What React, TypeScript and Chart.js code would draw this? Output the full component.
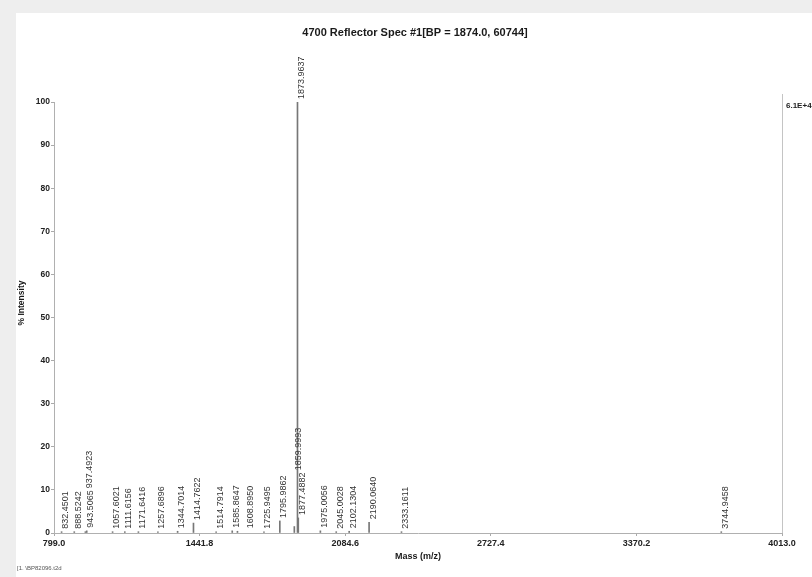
import { useEffect, useRef } from 'react';
import { Chart, registerables } from 'chart.js';

Chart.register(...registerables);

const TITLE = '4700 Reflector Spec #1[BP = 1874.0, 60744]';
const X_TITLE = 'Mass (m/z)';
const Y_TITLE = '% Intensity';
const RIGHT_LABEL = '6.1E+4';
const FOOTNOTE = '[1. \\BP82096.t2d';

const X_MIN = 799.0;
const X_MAX = 4013.0;
const X_TICKS = [799.0, 1441.8, 2084.6, 2727.4, 3370.2, 4013.0];
const Y_TICKS = [0, 10, 20, 30, 40, 50, 60, 70, 80, 90, 100];

const PEAK_MZ = [
  832.4501, 888.5242, 937.4923, 943.5065, 1057.6021, 1111.6156, 1171.6416,
  1257.6896, 1344.7014, 1414.7622, 1514.7914, 1585.8647, 1608.895, 1725.9495,
  1795.9862, 1859.9993, 1873.9637, 1877.4882, 1975.0056, 2045.0028, 2102.1304,
  2190.064, 2333.1611, 3744.9458,
];
const PEAK_INTENSITY = [
  0.3, 0.3, 0.3, 0.5, 0.3, 0.3, 0.3,
  0.3, 0.4, 2.3, 0.3, 0.5, 0.4, 0.3,
  2.8, 1.5, 100, 3.5, 0.5, 0.3, 0.4,
  2.5, 0.3, 0.3,
];
const PEAK_LABELS = [
  '832.4501', '888.5242', '937.4923', '943.5065', '1057.6021', '1111.6156', '1171.6416',
  '1257.6896', '1344.7014', '1414.7622', '1514.7914', '1585.8647', '1608.8950', '1725.9495',
  '1795.9862', '1859.9993', '1873.9637', '1877.4882', '1975.0056', '2045.0028', '2102.1304',
  '2190.0640', '2333.1611', '3744.9458',
];

const FONT = '"Liberation Sans", Arial, sans-serif';

const decorPlugin = {
  id: 'decor',
  afterDraw(chart: any) {
    const { ctx, chartArea, scales } = chart;
    const xs = scales.x;
    const ys = scales.y;
    ctx.save();

    // right frame line
    ctx.strokeStyle = '#c4c4c4';
    ctx.lineWidth = 1;
    ctx.beginPath();
    ctx.moveTo(Math.round(chartArea.right) + 0.5, chartArea.top - 8);
    ctx.lineTo(Math.round(chartArea.right) + 0.5, chartArea.bottom);
    ctx.stroke();

    // right label (clipped by canvas edge)
    ctx.fillStyle = '#222';
    ctx.font = `bold 8px ${FONT}`;
    ctx.textAlign = 'left';
    ctx.textBaseline = 'middle';
    ctx.fillText(RIGHT_LABEL, chartArea.right + 4, ys.getPixelForValue(100) + 4);

    // title
    ctx.font = `bold 11px ${FONT}`;
    ctx.textAlign = 'center';
    ctx.fillStyle = '#1a1a1a';
    ctx.fillText(TITLE, 415, 33);

    // x title
    ctx.font = `bold 9px ${FONT}`;
    ctx.fillText(X_TITLE, 418, 557);

    // y title
    ctx.save();
    ctx.translate(22, 303);
    ctx.rotate(-Math.PI / 2);
    ctx.font = `bold 8.5px ${FONT}`;
    ctx.fillText(Y_TITLE, 0, 0);
    ctx.restore();

    // footnote
    ctx.font = `6px ${FONT}`;
    ctx.textAlign = 'left';
    ctx.fillStyle = '#555';
    ctx.fillText(FOOTNOTE, 17, 568);

    // peak labels
    ctx.font = `9px ${FONT}`;
    ctx.fillStyle = '#333';
    const order = PEAK_MZ.map((_, i) => i).sort(
      (a, b) => PEAK_INTENSITY[b] - PEAK_INTENSITY[a]
    );
    const placed: { cx: number; bottom: number; len: number; px: number }[] = [];
    for (const i of order) {
      const px = xs.getPixelForValue(PEAK_MZ[i]);
      const py = ys.getPixelForValue(PEAK_INTENSITY[i]);
      const len = ctx.measureText(PEAK_LABELS[i]).width;
      let cx = px + 4;
      let bottom = py - 3;
      let moved = true;
      let guard = 0;
      while (moved && guard++ < 50) {
        moved = false;
        for (const p of placed) {
          const xOverlap = Math.abs(cx - p.cx) < 10;
          const yOverlap = bottom > p.bottom - p.len - 1 && bottom - len < p.bottom + 1;
          if (xOverlap && yOverlap) {
            if (Math.abs(px - p.px) < 4.5) bottom = p.bottom - p.len - 2;
            else cx = p.cx + 14;
            moved = true;
            break;
          }
        }
      }
      placed.push({ cx, bottom, len, px });
      ctx.save();
      ctx.translate(cx, bottom);
      ctx.rotate(-Math.PI / 2);
      ctx.textAlign = 'left';
      ctx.textBaseline = 'middle';
      ctx.fillText(PEAK_LABELS[i], 0, 0);
      ctx.restore();
    }
    ctx.restore();
  },
};

export default function App() {
  const ref = useRef<HTMLCanvasElement | null>(null);

  useEffect(() => {
    if (!ref.current) return;
    const chart = new Chart(ref.current, {
      type: 'bar',
      data: {
        datasets: [
          {
            data: PEAK_MZ.map((mz, i) => ({ x: mz, y: PEAK_INTENSITY[i] })),
            backgroundColor: '#777',
            borderWidth: 0,
            barThickness: 1,
          },
        ],
      },
      options: {
        responsive: false,
        animation: false,
        devicePixelRatio: 1,
        layout: { padding: { top: 102, right: 30, left: 0, bottom: 0 } },
        plugins: {
          legend: { display: false },
          tooltip: { enabled: false },
          title: { display: false },
        },
        scales: {
          x: {
            type: 'linear',
            offset: false,
            min: X_MIN,
            max: X_MAX,
            afterBuildTicks: (scale: any) => {
              scale.ticks = X_TICKS.map((v) => ({ value: v }));
            },
            afterFit: (scale: any) => {
              scale.height = 44;
            },
            ticks: {
              autoSkip: false,
              maxRotation: 0,
              padding: 2,
              color: '#222',
              font: { family: FONT, size: 9, weight: 'bold' },
              callback: (v: any) => Number(v).toFixed(1),
            },
            grid: { display: true, drawOnChartArea: false, offset: false, tickLength: 3, color: '#aaa' },
            border: { display: true, color: '#b0b0b0' },
          },
          y: {
            min: 0,
            max: 100,
            afterBuildTicks: (scale: any) => {
              scale.ticks = Y_TICKS.map((v) => ({ value: v }));
            },
            afterFit: (scale: any) => {
              scale.width = 54;
            },
            ticks: {
              padding: 1,
              color: '#222',
              font: { family: FONT, size: 8.5, weight: 'bold' },
            },
            grid: { display: true, drawOnChartArea: false, tickLength: 3, color: '#aaa' },
            border: { display: true, color: '#b0b0b0' },
          },
        },
      },
      plugins: [decorPlugin],
    } as any);
    return () => chart.destroy();
  }, []);

  return (
    <div style={{ position: 'fixed', left: 0, top: 0, width: 812, height: 577, background: '#eeeeee' }}>
      <div style={{ position: 'absolute', left: 16, top: 13, right: 0, bottom: 0, background: '#ffffff' }} />
      <canvas ref={ref} width={812} height={577} style={{ position: 'absolute', left: 0, top: 0, width: 812, height: 577 }} />
    </div>
  );
}
